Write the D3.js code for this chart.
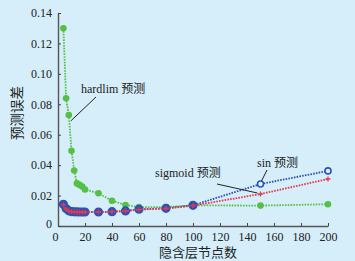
<!DOCTYPE html>
<html>
<head>
<meta charset="utf-8">
<script src="https://cdn.jsdelivr.net/npm/d3@7"></script>
<style>
  html, body { margin: 0; padding: 0; background: #d5eefa; }
  svg { display: block; }
  svg text { font-family: 'Liberation Serif', 'Times New Roman', 'DejaVu Serif', serif; }
</style>
</head>
<body>
<div id="chart"></div>
<script>
// hidden-layer node counts
const nodes = [4, 6, 8, 10, 12, 14, 16, 18, 20, 30, 40, 50, 60, 80, 100, 150, 200];
// prediction error for each transfer function
const hardlimErr = [0.130, 0.084, 0.073, 0.0495, 0.0365, 0.028, 0.027, 0.026, 0.024, 0.0215, 0.0166, 0.0138, 0.0124, 0.0124, 0.0136, 0.0134, 0.0143];
const sinErr     = [0.0143, 0.0115, 0.0100, 0.0095, 0.0093, 0.0093, 0.0092, 0.0092, 0.0092, 0.0092, 0.0094, 0.0099, 0.0110, 0.0116, 0.0136, 0.0276, 0.0362];
const sigmoidErr = [0.0140, 0.0110, 0.0098, 0.0093, 0.0092, 0.0092, 0.0091, 0.0091, 0.0091, 0.0092, 0.0094, 0.0098, 0.0108, 0.0115, 0.0134, 0.0210, 0.0309];
const xTicks = [0, 20, 40, 60, 80, 100, 120, 140, 160, 180, 200];
const yTicks = [0, 0.02, 0.04, 0.06, 0.08, 0.10, 0.12, 0.14];
const labels = ['hardlim 预测', 'sigmoid 预测', 'sin 预测'];

const width = 355, height = 261;
const margin = { top: 13, right: 27, bottom: 35, left: 58 };
const colors = { hardlim: '#56bf45', sin: '#2d52b4', sigmoid: '#e5384c' };
const latin = "'Liberation Serif', 'Times New Roman', 'DejaVu Serif', serif";
const cjk = "'Noto Sans CJK SC', sans-serif";

const svg = d3.select('#chart').append('svg')
    .attr('width', width)
    .attr('height', height);

const x = d3.scaleLinear().domain([0, 200]).range([margin.left, width - margin.right]);
const y = d3.scaleLinear().domain([0, 0.14]).range([height - margin.bottom, margin.top]);

// axes, ticks pointing inward
const xAxis = svg.append('g')
    .attr('transform', `translate(0,${y(0)})`)
    .call(d3.axisBottom(x).tickValues(xTicks).tickSizeInner(-3).tickSizeOuter(0).tickPadding(6));
const yAxis = svg.append('g')
    .attr('transform', `translate(${x(0)},0)`)
    .call(d3.axisLeft(y).tickValues(yTicks).tickSizeInner(-3).tickSizeOuter(0).tickPadding(6)
        .tickFormat(d => d === 0 ? '0' : d.toFixed(2)));

[xAxis, yAxis].forEach(a => {
    a.attr('font-family', null);
    a.select('.domain').attr('stroke', '#555').attr('stroke-width', 1.4);
    a.selectAll('.tick line').attr('stroke', '#444').attr('stroke-width', 1);
    a.selectAll('text').style('font-family', latin).style('font-size', '12px').attr('fill', '#222');
});
// nudge the two zero labels like the original
xAxis.selectAll('.tick').filter(d => d === 0).select('text').attr('dx', -3);
yAxis.selectAll('.tick').filter(d => d === 0).select('text').attr('dy', '0.1em');

// axis titles
svg.append('text')
    .attr('x', 198).attr('y', 257)
    .attr('text-anchor', 'middle')
    .style('font-family', cjk).style('font-size', '13px').attr('fill', '#222')
    .text('隐含层节点数');
svg.append('text')
    .attr('transform', 'translate(22,113) rotate(-90)')
    .attr('text-anchor', 'middle')
    .style('font-family', cjk).style('font-size', '13.5px').attr('fill', '#222')
    .text('预测误差');

const line = d3.line().x(d => x(d[0])).y(d => y(d[1]));

function drawLine(vals, color) {
    svg.append('path')
        .datum(nodes.map((n, i) => [n, vals[i]]))
        .attr('fill', 'none')
        .attr('stroke', color)
        .attr('stroke-width', 1.8)
        .attr('stroke-dasharray', '1.6 1.2')
        .attr('d', line);
}

// hardlim
drawLine(hardlimErr, colors.hardlim);
svg.append('g').selectAll('circle')
    .data(nodes.map((n, i) => [n, hardlimErr[i]]))
    .join('circle')
    .attr('cx', d => x(d[0]))
    .attr('cy', d => y(d[1]))
    .attr('r', 3.3)
    .attr('fill', colors.hardlim);

// sin
drawLine(sinErr, colors.sin);
svg.append('g').selectAll('circle')
    .data(nodes.map((n, i) => [n, sinErr[i]]))
    .join('circle')
    .attr('cx', d => x(d[0]))
    .attr('cy', d => y(d[1]))
    .attr('r', d => d[0] > 100 ? 3 : 3.8)
    .attr('fill', d => d[0] > 100 ? '#dff2fb' : colors.sin)
    .attr('stroke', colors.sin)
    .attr('stroke-width', 1.6);

// sigmoid
drawLine(sigmoidErr, colors.sigmoid);
svg.append('g').selectAll('path')
    .data(nodes.map((n, i) => [n, sigmoidErr[i]]))
    .join('path')
    .attr('d', d => `M${x(d[0]) - 2.5},${y(d[1])}h5M${x(d[0])},${y(d[1]) - 2.5}v5`)
    .attr('stroke', colors.sigmoid)
    .attr('stroke-width', 1.3);

// annotations with leader lines
const notes = [
    { text: labels[0], tx: 81, ty: 93, from: [96, 97], to: [nodes[2], hardlimErr[2]], off: [2, 6] },
    { text: labels[1], tx: 155, ty: 177, from: [217, 184], to: [nodes[15], sigmoidErr[15]], off: [-3, -1] },
    { text: labels[2], tx: 257, ty: 167, from: [267, 170], to: [nodes[15], sinErr[15]], off: [1, -3] }
];
notes.forEach(n => {
    svg.append('line')
        .attr('x1', n.from[0]).attr('y1', n.from[1])
        .attr('x2', x(n.to[0]) + n.off[0]).attr('y2', y(n.to[1]) + n.off[1])
        .attr('stroke', '#222').attr('stroke-width', 1);
    const [latinPart, cjkPart] = n.text.split(' ');
    const t = svg.append('text')
        .attr('x', n.tx).attr('y', n.ty)
        .style('font-size', '12px').attr('fill', '#222');
    t.append('tspan').style('font-family', latin).text(latinPart + ' ');
    t.append('tspan').style('font-family', cjk).text(cjkPart);
});
</script>
</body>
</html>
